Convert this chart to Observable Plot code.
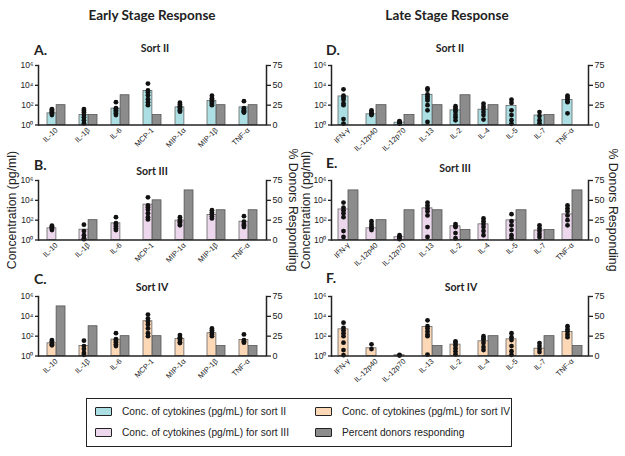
<!DOCTYPE html>
<html><head><meta charset="utf-8">
<script src="https://cdn.jsdelivr.net/npm/d3@7"></script>
<script src="https://cdn.jsdelivr.net/npm/@observablehq/plot@0.6"></script>
<style>
body{margin:0;background:#fff;}
#fig{position:relative;width:625px;height:456px;overflow:hidden;font-family:"Liberation Sans",Arial,sans-serif;background:#fff;}
#fig svg{position:absolute;}
.t{position:absolute;white-space:nowrap;line-height:1;color:#222;font-family:"Liberation Sans",Arial,sans-serif;}
.c{transform:translate(-50%,-50%);}
.l{transform:translate(0,-50%);}
.big{font-family:Lato,"Open Sans",sans-serif;font-weight:700;font-size:13.5px;}
.sort{font-family:Lato,"Open Sans",sans-serif;font-weight:700;font-size:10.5px;}
.pl{font-family:Lato,"Open Sans",sans-serif;font-weight:700;font-size:14px;}
.rotL{font-size:12.3px;transform:translate(-50%,-50%) rotate(-90deg);}
.rotR{font-size:12.3px;transform:translate(-50%,-50%) rotate(90deg);}
.leg{font-size:10.2px;}
.sw{position:absolute;width:15px;height:7px;border:1.5px solid #222;border-radius:1px;}
</style></head><body><div id="fig"></div>
<script>
// ---------- data ----------
const earlyCats = ["IL-10","IL-1β","IL-6","MCP-1","MIP-1α","MIP-1β","TNF-α"];
const lateCats = ["IFN-γ","IL-12p40","IL-12p70","IL-13","IL-2","IL-4","IL-5","IL-7","TNF-α"];
const concTicks = [1,1e2,1e4,1e6];
const pctTicks = [0,25,50,75];

// bar heights (pg/mL)
const concA = [15, 10, 45, 2700, 60, 265, 60];
const concB = [15, 11, 48, 3700, 90, 330, 70];
const concC = [19, 10, 45, 3200, 52, 195, 42];
const concD = [760, 12, 1.7, 1100, 30, 35, 85, 9, 330];
const concE = [1200, 15, 1.9, 1550, 24, 38, 95, 9, 380];
const concF = [490, 6, 1.2, 850, 14, 30, 48, 5.5, 265];

// percent donors responding
const pctA = [25, 12.5, 37.5, 12.5, 0, 25, 25];
const pctB = [0, 25, 0, 50, 62.5, 37.5, 37.5];
const pctC = [62.5, 37.5, 25, 25, 0, 12.5, 12.5];
const pctD = [0, 25, 12.5, 25, 37.5, 25, 0, 12.5, 0];
const pctE = [62.5, 25, 37.5, 37.5, 12.5, 0, 37.5, 12.5, 62.5];
const pctF = [0, 0, 0, 12.5, 0, 25, 0, 25, 12.5];

// individual donor values (pg/mL)
const dotsA = [
  [10, 14, 18, 22, 28, 35, 40],
  [1.5, 3, 6, 10, 18, 28, 40],
  [200, 50, 40, 30, 22, 15, 10],
  [15000, 3000, 2000, 1000, 400, 200, 100],
  [180, 120, 80, 60, 40, 30, 22],
  [900, 500, 350, 250, 180, 130, 100],
  [250, 50, 40, 30, 25, 20, 18]
];
const dotsB = [
  [10, 14, 18, 22, 28],
  [35, 8, 3, 1.5, 1.2],
  [200, 50, 35, 25, 15, 10],
  [20000, 3000, 2000, 1200, 500, 200, 120],
  [200, 120, 80, 60, 40, 30],
  [1000, 600, 400, 250, 150],
  [250, 70, 40, 30, 20]
];
const dotsC = [
  [40, 30, 22, 15, 12],
  [35, 10, 5, 2, 1.3],
  [200, 50, 35, 25, 15, 10],
  [15000, 6000, 3000, 1500, 600, 200, 100],
  [130, 80, 60, 40, 25, 20],
  [600, 400, 250, 150, 100],
  [150, 40, 30, 22]
];
const dotsD = [
  [4000, 900, 600, 350, 150, 100, 4, 1.4],
  [30, 20, 15, 12, 10],
  [2.5, 2, 1.5, 1.4],
  [5000, 3500, 1200, 800, 500, 300, 100, 30, 2],
  [80, 50, 30, 20, 10, 6, 3],
  [140, 70, 40, 20, 10, 3.5],
  [350, 170, 30, 10, 3, 1.3],
  [20, 8, 3, 1.5],
  [900, 600, 400, 250, 200, 15]
];
const dotsE = [
  [6000, 1800, 1000, 500, 200, 8, 2],
  [80, 40, 25, 15, 10],
  [3, 2, 1.5, 1.2],
  [6000, 3000, 1500, 800, 300, 20, 2],
  [40, 25, 20, 5, 1.5],
  [150, 80, 40, 20, 8, 3],
  [400, 80, 30, 10, 3, 1.5],
  [30, 15, 8, 4, 2],
  [3000, 1500, 800, 300, 100, 30]
];
const dotsF = [
  [2300, 700, 400, 200, 100, 22, 4, 1.2],
  [15, 5],
  [1.3, 1.1],
  [4000, 1000, 600, 300, 150, 100, 1.4],
  [30, 20, 12, 6, 3, 1.5],
  [100, 60, 40, 20, 8, 4],
  [200, 80, 40, 10, 3, 1.3],
  [20, 10, 5, 2.5],
  [1000, 500, 300, 150, 80]
];

const colSortII = "#abdfe3", colSortIII = "#ecd7ec", colSortIV = "#fcd8b6", colPct = "#8c8c8c";

// ---------- layout ----------
const fig = document.getElementById("fig");
const plotH = 59.5, mT = 10, mB = 42;
const leftGeom = {left: 0, w: 310, ml: 38, mr: 44, pad: 0.44};
const rightGeom = {left: 295, w: 330, ml: 36, mr: 37, pad: 0.3};
const rowTops = [65, 180, 295.5];

const sup = {0: "⁰", 2: "²", 4: "⁴", 6: "⁶"};
const fmt = d => "10" + sup[Math.round(Math.log10(d))];
const font = "'Liberation Sans', Arial, sans-serif";

function drawPanel(geom, top, cats, conc, pct, dots, fill) {
  const n = cats.length;
  const step = (geom.w - geom.ml - geom.mr) / n;
  const bw = step * (1 - geom.pad);
  const rows = cats.map((c, i) => ({cat: c, conc: conc[i], pct: pct[i]}));
  const pts = cats.flatMap((c, i) => dots[i].map(v => ({cat: c, v})));
  const H = mT + plotH + mB;
  const common = {
    width: geom.w, height: H, marginLeft: geom.ml, marginRight: geom.mr, marginTop: mT, marginBottom: mB,
    style: {background: "transparent", fontFamily: font, color: "#222", overflow: "visible"}
  };
  const xs = {domain: cats, paddingInner: geom.pad, paddingOuter: geom.pad / 2};
  const back = Plot.plot({
    ...common,
    x: {...xs, axis: null},
    y: {domain: [0, 75], label: null},
    marks: [
      Plot.barY(rows.filter(d => d.pct > 0), {x: "cat", y: "pct", insetLeft: bw / 2, fill: colPct, stroke: "#555", strokeWidth: 0.8}),
      Plot.axisY({anchor: "right", ticks: pctTicks, tickSize: 4, tickPadding: 2, fontSize: 9, label: null, strokeWidth: 1.3}),
      Plot.frame({anchor: "right", stroke: "#222", strokeWidth: 1.5})
    ]
  });
  const front = Plot.plot({
    ...common,
    x: {...xs},
    y: {type: "log", domain: [1, 1e6], label: null},
    marks: [
      Plot.barY(rows, {x: "cat", y1: 1, y2: "conc", insetRight: bw / 2, fill, stroke: "#666", strokeWidth: 0.8}),
      Plot.dot(pts, {x: "cat", y: "v", dx: -bw / 4, r: 2.4, fill: "#111", stroke: null}),
      Plot.ruleY([1], {stroke: "#222", strokeWidth: 1.5}),
      Plot.frame({anchor: "left", stroke: "#222", strokeWidth: 1.5}),
      Plot.axisY({ticks: concTicks, tickFormat: fmt, tickSize: 3, tickPadding: 2, fontSize: 8.5, label: null, strokeWidth: 1.3}),
      Plot.axisX({tickRotate: -45, tickSize: 0, tickPadding: 4, fontSize: 7.5, label: null})
    ]
  });
  for (const s of [back, front]) {
    s.style.left = geom.left + "px";
    s.style.top = (top - mT) + "px";
    fig.appendChild(s);
  }
}

drawPanel(leftGeom, rowTops[0], earlyCats, concA, pctA, dotsA, colSortII);
drawPanel(leftGeom, rowTops[1], earlyCats, concB, pctB, dotsB, colSortIII);
drawPanel(leftGeom, rowTops[2], earlyCats, concC, pctC, dotsC, colSortIV);
drawPanel(rightGeom, rowTops[0], lateCats, concD, pctD, dotsD, colSortII);
drawPanel(rightGeom, rowTops[1], lateCats, concE, pctE, dotsE, colSortIII);
drawPanel(rightGeom, rowTops[2], lateCats, concF, pctF, dotsF, colSortIV);

function txt(s, x, y, cls) {
  const d = document.createElement("div");
  d.className = "t " + cls;
  d.textContent = s;
  d.style.left = x + "px";
  d.style.top = y + "px";
  fig.appendChild(d);
  return d;
}
txt("Early Stage Response", 152, 16, "big c");
txt("Late Stage Response", 447, 16, "big c");
txt("A.", 34, 50, "pl l"); txt("Sort II", 155, 48, "sort c");
txt("B.", 34, 165, "pl l"); txt("Sort III", 152, 171, "sort c");
txt("C.", 34, 279, "pl l"); txt("Sort IV", 152, 287, "sort c");
txt("D.", 326, 50, "pl l"); txt("Sort II", 450, 48, "sort c");
txt("E.", 326, 163, "pl l"); txt("Sort III", 455, 168, "sort c");
txt("F.", 326, 278, "pl l"); txt("Sort IV", 461, 287, "sort c");
txt("Concentration (pg/ml)", 12, 210, "rotL");
txt("% Donors Responding", 293, 210, "rotR");
txt("Concentration (pg/ml)", 306, 210, "rotL");
txt("% Donors Responding", 613, 210, "rotR");

// legend
const box = document.createElement("div");
box.style.cssText = "position:absolute;left:86px;top:398px;width:424px;height:47px;border:1.5px solid #222;";
fig.appendChild(box);
const legendItems = [
  {label: "Conc. of cytokines (pg/mL) for sort II", color: colSortII, x: 95, y: 412},
  {label: "Conc. of cytokines (pg/mL) for sort III", color: colSortIII, x: 95, y: 433},
  {label: "Conc. of cytokines (pg/mL) for sort IV", color: colSortIV, x: 315, y: 412},
  {label: "Percent donors responding", color: colPct, x: 315, y: 433}
];
for (const it of legendItems) {
  const sw = document.createElement("div");
  sw.className = "sw";
  sw.style.left = it.x + "px";
  sw.style.top = (it.y - 5) + "px";
  sw.style.background = it.color;
  fig.appendChild(sw);
  txt(it.label, it.x + 27, it.y, "leg l");
}
</script></body></html>
